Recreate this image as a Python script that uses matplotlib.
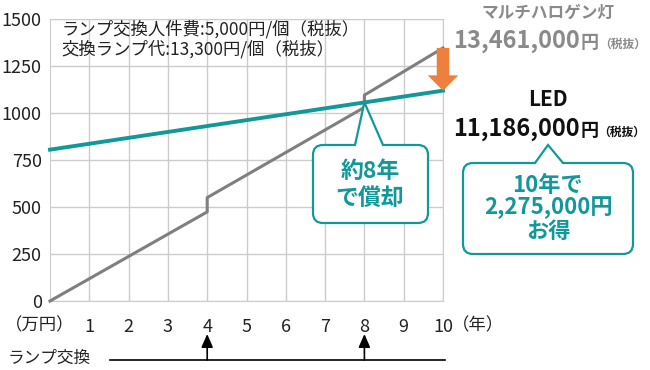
import numpy as np
import matplotlib.pyplot as plt
from matplotlib.path import Path
from matplotlib.patches import PathPatch
from matplotlib.transforms import IdentityTransform
from matplotlib.lines import Line2D

plt.rcParams['font.family'] = ['Noto Sans CJK JP', 'DejaVu Sans']

# data (万円)
halogen_x = [0, 4, 4, 8, 8, 10]
halogen_y = [0, 474, 550, 1030, 1095, 1346]
led_x = [0, 10]
led_y = [805, 1119]
swap_years = [4, 8]
years = list(range(1, 11))
yticks = [0, 250, 500, 750, 1000, 1250, 1500]

TEAL = '#13989a'
GRAY = '#7f7f7f'
ORANGE = '#ee7f3c'
W, H = 650, 370

fig = plt.figure(figsize=(6.5, 3.7), dpi=100)
ax = fig.add_axes([50 / W, 69 / H, 393 / W, 282 / H])
ax.set_xlim(0, 10)
ax.set_ylim(0, 1500)
ax.set_xticks(years)
ax.set_yticks(yticks)
ax.set_xticklabels([str(y) for y in years])
ax.grid(True, color='#cccccc', lw=1)
for s in ax.spines.values():
    s.set_color('#cccccc')
ax.tick_params(length=0, labelsize=13, colors='#222222')
ax.tick_params(axis='x', pad=12)
ax.tick_params(axis='y', pad=6)

ax.plot(halogen_x, halogen_y, color=GRAY, lw=2.2, zorder=3, clip_on=False)
ax.plot(led_x, led_y, color=TEAL, lw=2.8, zorder=4, clip_on=False)

# orange arrow from halogen end to LED end
ax.annotate('', xy=(10, led_y[-1]), xytext=(10, halogen_y[-1]),
            arrowprops=dict(arrowstyle='simple,head_width=2.2,head_length=1.1,tail_width=0.9',
                            color=ORANGE, lw=0, shrinkA=0, shrinkB=0), zorder=5)

ax.text(0.3, 1390, 'ランプ交換人件費:5,000円/個（税抜）\n交換ランプ代:13,300円/個（税抜）',
        fontsize=12.5, va='center', ha='left', linespacing=1.1, color='#222222')

fig.text(5 / W, (H - 325) / H, '（万円）', fontsize=12.5, ha='left', va='center', color='#222222')
fig.text(452 / W, (H - 325) / H, '（年）', fontsize=12.5, ha='left', va='center', color='#222222')


def callout(x0, y0, x1, y1, bl, br, tip, r=10):
    # pixel coords with y measured from top
    def p(x, y):
        return (x, H - y)
    verts = [p(x0 + r, y0), p(bl, y0), p(*tip), p(br, y0), p(x1 - r, y0),
             p(x1, y0), p(x1, y0 + r), p(x1, y1 - r), p(x1, y1), p(x1 - r, y1),
             p(x0 + r, y1), p(x0, y1), p(x0, y1 - r), p(x0, y0 + r), p(x0, y0),
             p(x0 + r, y0)]
    codes = [Path.MOVETO, Path.LINETO, Path.LINETO, Path.LINETO, Path.LINETO,
             Path.CURVE3, Path.CURVE3, Path.LINETO, Path.CURVE3, Path.CURVE3,
             Path.LINETO, Path.CURVE3, Path.CURVE3, Path.LINETO, Path.CURVE3,
             Path.CURVE3]
    patch = PathPatch(Path(verts, codes), facecolor='white', edgecolor=TEAL,
                      lw=1.6, transform=IdentityTransform(), zorder=6)
    fig.add_artist(patch)


tip = ax.transData.transform((8, led_y[0] + (led_y[1] - led_y[0]) * 0.8))
callout(313, 145, 428, 223, 355, 383, (tip[0], H - tip[1]))
fig.text(370 / W, (H - 185) / H, '約8年\nで償却', fontsize=16.5, fontweight='bold',
         color=TEAL, ha='center', va='center', linespacing=1.25, zorder=7)

callout(463, 163, 633, 254, 535, 563, (548, 145))
fig.text(548 / W, (H - 208) / H, '10年で\n2,275,000円\nお得', fontsize=16, fontweight='bold',
         color=TEAL, ha='center', va='center', linespacing=1.0, zorder=7)

# right labels
renderer = fig.canvas.get_renderer()


def price(y, num, color):
    t = fig.text(453 / W, (H - y) / H, num, fontsize=17, fontweight='bold',
                 color=color, ha='left', va='baseline')
    x = t.get_window_extent(renderer).x1 + 1
    t2 = fig.text(x / W, (H - y) / H, '円', fontsize=13, fontweight='bold',
                  color=color, ha='left', va='baseline')
    x = t2.get_window_extent(renderer).x1
    fig.text(x / W, (H - y) / H, '（税抜）', fontsize=8.5, fontweight='bold',
             color=color, ha='left', va='baseline')


fig.text(548 / W, (H - 13) / H, 'マルチハロゲン灯', fontsize=12, fontweight='bold',
         color='#8a8a8a', ha='center', va='center')
price(48, '13,461,000', '#8a8a8a')

fig.text(548 / W, (H - 100) / H, 'LED', fontsize=15, fontweight='bold',
         color='#111111', ha='center', va='center')
price(136, '11,186,000', '#111111')

# lamp replacement timeline
fig.text(8 / W, (H - 358) / H, 'ランプ交換', fontsize=12, ha='left', va='center', color='#222222')
fig.add_artist(Line2D([110 / W, 445 / W], [(H - 360) / H] * 2, color='black', lw=1.2))
for yr in swap_years:
    ax.annotate('', xy=(yr, H - 334), xytext=(yr, H - 360),
                xycoords=('data', 'figure pixels'), textcoords=('data', 'figure pixels'),
                arrowprops=dict(arrowstyle='-|>,head_width=0.35,head_length=0.8',
                                color='black', lw=1.2, shrinkA=0, shrinkB=0))

fig.savefig('out.png', dpi=100)
